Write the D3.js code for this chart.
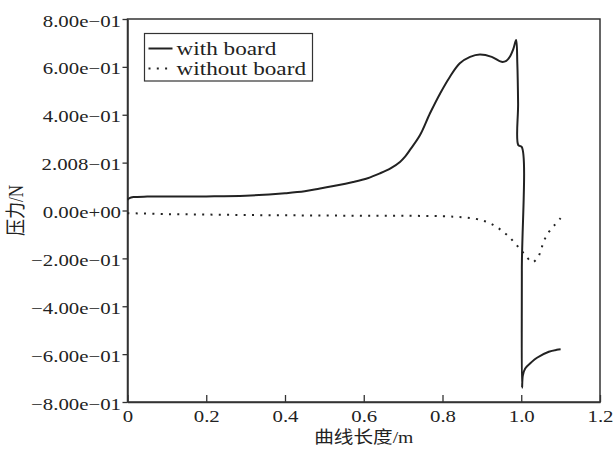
<!DOCTYPE html>
<html>
<head>
<meta charset="utf-8">
<script src="https://cdn.jsdelivr.net/npm/d3@7"></script>
<style>
  body { margin: 0; background: #fff; }
</style>
</head>
<body>
<svg id="chart" width="614" height="454"></svg>
<script>
const width = 614;
const height = 454;
const marginTop = 19;
const marginRight = 14;
const marginBottom = 52;
const marginLeft = 127.5;

// with board (solid line)
const withBoardX = [0, 0.005, 0.015, 0.05, 0.1, 0.2, 0.3, 0.4, 0.45, 0.489, 0.53, 0.573, 0.61, 0.641, 0.668, 0.692,
  0.705, 0.717, 0.743, 0.768, 0.794, 0.819, 0.844, 0.87, 0.895, 0.925, 0.95, 0.962, 0.971, 0.98, 0.987,
  0.99, 0.992, 0.9925, 1.001, 1.0015, 1.002, 1.004, 1.01, 1.025, 1.04, 1.07, 1.09, 1.1];
const withBoardY = [0.045, 0.052, 0.056, 0.058, 0.058, 0.059, 0.062, 0.072, 0.08, 0.092, 0.104, 0.119, 0.135, 0.155, 0.176, 0.203,
  0.225, 0.252, 0.315, 0.405, 0.489, 0.559, 0.615, 0.642, 0.652, 0.642, 0.621, 0.625, 0.642, 0.675, 0.712,
  0.615, 0.447, 0.273, 0.266, -0.25, -0.74, -0.69, -0.66, -0.635, -0.615, -0.59, -0.582, -0.58];

// without board (dotted line)
const withoutBoardX = [0, 0.1, 0.2, 0.3, 0.4, 0.5, 0.6, 0.7, 0.8, 0.85, 0.885, 0.908, 0.929, 0.948, 0.966,
  0.982, 0.997, 1.012, 1.028, 1.043, 1.051, 1.059, 1.07, 1.085, 1.1];
const withoutBoardY = [-0.011, -0.015, -0.017, -0.019, -0.02, -0.021, -0.022, -0.022, -0.024, -0.028, -0.035,
  -0.045, -0.06, -0.081, -0.105, -0.133, -0.161, -0.19, -0.216, -0.194, -0.159, -0.122, -0.09, -0.06, -0.032];

const xTicks = [0, 0.2, 0.4, 0.6, 0.8, 1.0, 1.2];
const xTickLabels = ["0", "0.2", "0.4", "0.6", "0.8", "1.0", "1.2"];
const yTicks = [0.8, 0.6, 0.4, 0.2, 0, -0.2, -0.4, -0.6, -0.8];
const yTickLabels = ["8.00e\u221201", "6.00e\u221201", "4.00e\u221201", "2.008\u221201", "0.00e+00",
  "\u22122.00e\u221201", "\u22124.00e\u221201", "\u22126.00e\u221201", "\u22128.00e\u221201"];

const seriesNames = ["with board", "without board"];
const xTitle = "曲线长度/m";
const yTitle = "压力/N";

const serif = "'Liberation Serif', 'Times New Roman', serif";
const cjk = "'Liberation Serif', 'Noto Sans CJK SC', serif";
const stretch = "scale(1.19,1)";
const ink = "#222";

const xScale = d3.scaleLinear().domain([0, 1.2]).range([marginLeft, width - marginRight]);
const yScale = d3.scaleLinear().domain([-0.8, 0.8]).range([height - marginBottom, marginTop]);

const svg = d3.select("#chart");

// frame
svg.append("rect")
  .attr("x", xScale(0)).attr("y", yScale(0.8))
  .attr("width", xScale(1.2) - xScale(0)).attr("height", yScale(-0.8) - yScale(0.8))
  .attr("fill", "none").attr("stroke", "#333").attr("stroke-width", 1.5);

// x axis, ticks pointing in
const gx = svg.append("g")
  .attr("transform", `translate(0,${yScale(-0.8)})`)
  .call(d3.axisBottom(xScale).tickValues(xTicks)
    .tickFormat((d, i) => xTickLabels[i]).tickSizeInner(-7).tickSizeOuter(0).tickPadding(8));
gx.select(".domain").attr("stroke", "#333").attr("stroke-width", 1.5);
gx.selectAll(".tick line").attr("stroke", "#333").attr("stroke-width", 1.3);
gx.selectAll(".tick text")
  .style("font-family", serif).style("font-size", "17.5px")
  .attr("fill", ink).attr("transform", stretch);

// y axis, ticks pointing out
const gy = svg.append("g")
  .attr("transform", `translate(${xScale(0)},0)`)
  .call(d3.axisLeft(yScale).tickValues(yTicks)
    .tickFormat((d, i) => yTickLabels[i]).tickSizeInner(5).tickSizeOuter(0).tickPadding(0.5));
gy.select(".domain").attr("stroke", "#333").attr("stroke-width", 1.5);
gy.selectAll(".tick line").attr("stroke", "#333").attr("stroke-width", 1.3);
gy.selectAll(".tick text")
  .style("font-family", serif).style("font-size", "17.5px")
  .attr("fill", ink).attr("dy", "0.4em").attr("transform", stretch);

// axis titles
svg.append("text")
  .attr("transform", `translate(${(xScale(0) + xScale(1.2)) / 2},${height - 11}) ${stretch}`)
  .attr("text-anchor", "middle").attr("fill", ink)
  .style("font-family", cjk).style("font-size", "16.5px")
  .text(xTitle);

svg.append("text")
  .attr("transform", `translate(23,${yScale(0)}) rotate(-90) scale(1,1.19)`)
  .attr("text-anchor", "middle").attr("fill", ink)
  .style("font-family", cjk).style("font-size", "17px")
  .text(yTitle);

// lines
const line = d3.line()
  .x((d) => xScale(d[0]))
  .y((d) => yScale(d[1]))
  .curve(d3.curveCatmullRom.alpha(0.5));

svg.append("path")
  .datum(withoutBoardX.map((x, i) => [x, withoutBoardY[i]]))
  .attr("d", line)
  .attr("fill", "none").attr("stroke", ink).attr("stroke-width", 2)
  .attr("stroke-dasharray", "2,6.3");

svg.append("path")
  .datum(withBoardX.map((x, i) => [x, withBoardY[i]]))
  .attr("d", line)
  .attr("fill", "none").attr("stroke", ink).attr("stroke-width", 2)
  .attr("stroke-linejoin", "round");

// legend
const legend = svg.append("g").attr("transform", "translate(144.5,33.5)");
legend.append("rect")
  .attr("width", 168).attr("height", 47.5)
  .attr("fill", "#fff").attr("stroke", "#333").attr("stroke-width", 1.2);
seriesNames.forEach((name, i) => {
  const row = legend.append("g").attr("transform", `translate(0,${15 + i * 20})`);
  row.append("line")
    .attr("x1", 4).attr("x2", 28).attr("y1", 0).attr("y2", 0)
    .attr("stroke", ink).attr("stroke-width", 2)
    .attr("stroke-dasharray", i === 0 ? null : "2,6.3");
  row.append("text")
    .attr("transform", `translate(32,6.5) ${stretch}`)
    .attr("fill", ink)
    .style("font-family", serif).style("font-size", "19.5px")
    .text(name);
});
</script>
</body>
</html>
